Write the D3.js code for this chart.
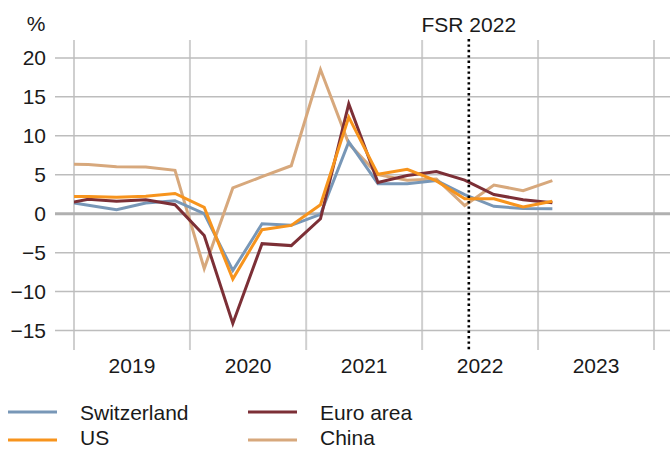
<!DOCTYPE html>
<html>
<head>
<meta charset="utf-8">
<script src="https://cdn.jsdelivr.net/npm/d3@7"></script>
<style>
  html, body { margin: 0; padding: 0; background: #fff; }
  svg { display: block; }
  text { font-family: "Liberation Sans", Arial, sans-serif; fill: #1a1a1a; }
</style>
</head>
<body>
<div id="chart"></div>
<script>
// quarterly GDP growth, y-o-y in %, Q4 2018 .. Q1 2023 (plotted mid-quarter)
const quarters = ['2018-11-15', '2019-02-15', '2019-05-15', '2019-08-15', '2019-11-15',
  '2020-02-15', '2020-05-15', '2020-08-15', '2020-11-15',
  '2021-02-15', '2021-05-15', '2021-08-15', '2021-11-15',
  '2022-02-15', '2022-05-15', '2022-08-15', '2022-11-15', '2023-02-15'];
const switzerland = [1.66, 1.08, 0.5, 1.37, 1.67, 0.0, -7.3, -1.3, -1.5, -0.1, 9.2, 3.85, 3.85, 4.25, 2.44, 0.95, 0.65, 0.63];
const us = [2.2, 2.2, 2.1, 2.25, 2.6, 0.8, -8.4, -2.05, -1.5, 1.15, 12.4, 5.05, 5.7, 4.2, 1.9, 1.9, 0.85, 1.6];
const euroArea = [1.15, 1.85, 1.6, 1.8, 1.15, -2.8, -14.1, -3.85, -4.1, -0.65, 14.1, 4.0, 4.9, 5.4, 4.3, 2.45, 1.8, 1.4];
const china = [6.36, 6.3, 6.03, 6.0, 5.56, -7.05, 3.3, 4.75, 6.15, 18.5, 9.0, 5.0, 4.3, 4.45, 1.05, 3.68, 2.95, 4.24];
const years = ['2019', '2020', '2021', '2022', '2023'];
const yTicks = [20, 15, 10, 5, 0, -5, -10, -15];
const fsrDate = '2022-05-28';

const series = [
  { name: 'Switzerland', values: switzerland, color: '#7897b7' },
  { name: 'Euro area', values: euroArea, color: '#7c2f36' },
  { name: 'US', values: us, color: '#f7941d' },
  { name: 'China', values: china, color: '#d7a87c' }
];

const W = 670, H = 450;
const FS = 21;
const svg = d3.select('#chart').append('svg').attr('width', W).attr('height', H);

const x = d3.scaleTime()
  .domain([new Date('2019-01-01'), new Date('2024-01-01')])
  .range([74, 654]);
const y = d3.scaleLinear().domain([-17.5, 22.5]).range([350, 38.4]);

// vertical year grid
const yearEdges = d3.range(2019, 2025).map(v => new Date(v + '-01-01'));
svg.append('g').selectAll('line').data(yearEdges).join('line')
  .attr('x1', d => x(d)).attr('x2', d => x(d))
  .attr('y1', 40).attr('y2', 350)
  .attr('stroke', '#cfcfcf').attr('stroke-width', 2);

// horizontal grid + labels
svg.append('g').selectAll('line').data(yTicks).join('line')
  .attr('x1', 55).attr('x2', W)
  .attr('y1', d => y(d)).attr('y2', d => y(d))
  .attr('stroke', d => d === 0 ? '#b0b0b0' : '#bdbdbd')
  .attr('stroke-width', d => d === 0 ? 3 : 1.5);
svg.append('g').selectAll('text').data(yTicks).join('text')
  .attr('x', 46).attr('y', d => y(d))
  .attr('dy', '0.36em')
  .attr('text-anchor', 'end')
  .attr('font-size', FS)
  .text(d => d < 0 ? '\u2212' + Math.abs(d) : d);

svg.append('text').attr('x', 36).attr('y', 31).attr('text-anchor', 'middle')
  .attr('font-size', FS).text('%');

// year labels
svg.append('g').selectAll('text').data(years).join('text')
  .attr('x', d => (x(new Date(d + '-01-01')) + x(new Date((+d + 1) + '-01-01'))) / 2)
  .attr('y', 373)
  .attr('text-anchor', 'middle')
  .attr('font-size', FS)
  .text(d => d);

// series lines (clipped to the plot start)
svg.append('clipPath').attr('id', 'clip').append('rect')
  .attr('x', 74).attr('y', 0).attr('width', W - 74).attr('height', H);
const dates = quarters.map(q => new Date(q));
const line = d3.line().x((d, i) => x(dates[i])).y(d => y(d));
const drawOrder = ['China', 'Switzerland', 'Euro area', 'US'];
svg.append('g').attr('clip-path', 'url(#clip)')
  .selectAll('path')
  .data(drawOrder.map(n => series.find(s => s.name === n)))
  .join('path')
  .attr('d', d => line(d.values))
  .attr('fill', 'none')
  .attr('stroke', d => d.color)
  .attr('stroke-width', 3)
  .attr('stroke-linejoin', 'miter');

// FSR 2022 marker
const fx = x(new Date(fsrDate));
svg.append('line')
  .attr('x1', fx).attr('x2', fx).attr('y1', 39).attr('y2', 350)
  .attr('stroke', '#000').attr('stroke-width', 2.6)
  .attr('stroke-dasharray', '2.4 3');
svg.append('text').attr('x', fx).attr('y', 32).attr('text-anchor', 'middle')
  .attr('font-size', FS).text('FSR 2022');

// legend
const leg = svg.append('g').selectAll('g').data(series).join('g')
  .attr('transform', (d, i) => `translate(${i % 2 === 0 ? 8 : 248},${i < 2 ? 412 : 440})`);
leg.append('line').attr('x1', 0).attr('x2', 49)
  .attr('stroke', d => d.color).attr('stroke-width', 3);
leg.append('text').attr('x', 72).attr('y', (d, i) => i < 2 ? 8 : 5)
  .attr('font-size', FS).text(d => d.name);
</script>
</body>
</html>
